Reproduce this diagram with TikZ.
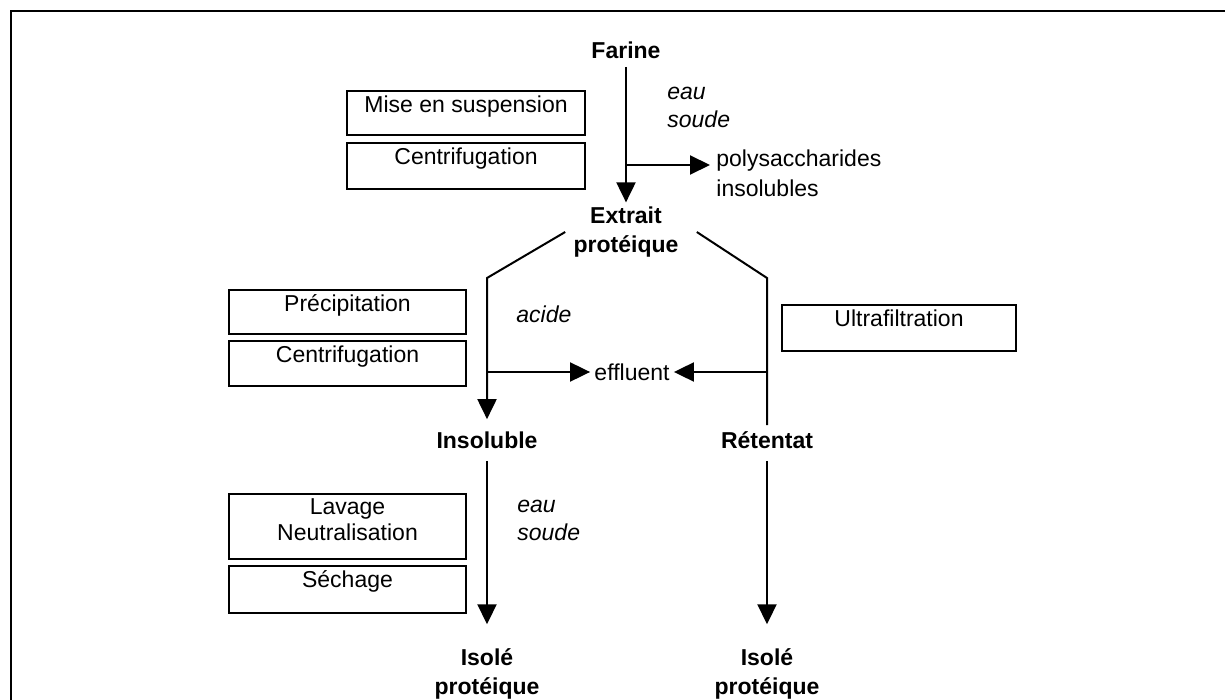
\documentclass[tikz,border=0pt]{standalone}
\usepackage{fontspec}
\setmainfont{Liberation Sans}
\usetikzlibrary{arrows.meta}
\begin{document}
\begin{tikzpicture}[x=0.5pt,y=-0.5pt,
  every node/.style={font=\fontsize{11.5}{14}\selectfont},
  lbl/.style={font=\fontsize{11.5}{14.5}\selectfont\bfseries, align=center, inner sep=2pt},
  note/.style={font=\fontsize{11.5}{14}\selectfont\itshape, align=left, anchor=west, inner sep=0pt},
  plain/.style={font=\fontsize{11.5}{15}\selectfont, align=left, anchor=west, inner sep=0pt},
  flow/.style={line width=1pt},
  arr/.style={flow, -{Triangle[length=10pt,width=9.5pt]}},
  stepbox/.style={draw, line width=1pt, anchor=north west, inner sep=0pt},
  boxtext/.style={anchor=north, inner sep=0pt, yshift=-2.5pt, align=center,
    font=\fontsize{11.5}{13}\selectfont}
]
\useasboundingbox (0,0) rectangle (1225,700);
% frame
\draw[line width=1.2pt] (11,700) -- (11,11) -- (1225,11);

% step boxes
\node[stepbox, minimum width=119pt, minimum height=22pt,
  label={[boxtext]north:Mise en suspension}] (b1) at (346,90) {};
\node[stepbox, minimum width=119pt, minimum height=23pt,
  label={[boxtext]north:Centrifugation}] (b2) at (346,142) {};
\node[stepbox, minimum width=118.5pt, minimum height=22pt,
  label={[boxtext]north:Précipitation}] (b3) at (228,289) {};
\node[stepbox, minimum width=118.5pt, minimum height=22.5pt,
  label={[boxtext]north:Centrifugation}] (b4) at (228,340) {};
\node[stepbox, minimum width=117pt, minimum height=23pt,
  label={[boxtext]north:Ultrafiltration}] (b5) at (781,304) {};
\node[stepbox, minimum width=118.5pt, minimum height=32.5pt,
  label={[boxtext]north:Lavage\\Neutralisation}] (b6) at (228,493) {};
\node[stepbox, minimum width=118.5pt, minimum height=23.5pt,
  label={[boxtext]north:Séchage}] (b7) at (228,565) {};

% main nodes
\node[lbl] (farine) at (626,50) {Farine};
\node[lbl] (extrait) at (626,232) {Extrait\\protéique};
\node[plain] (poly) at (716,173) {polysaccharides\\insolubles};
\node[note] (eau1) at (667,107) {eau\\soude};
\node[lbl] (insol) at (487,440) {Insoluble};
\node[lbl] (reten) at (767,440) {Rétentat};
\node[note] (acide) at (516,314) {acide};
\node[inner sep=2pt] (eff) at (632,372) {effluent};
\node[note] (eau2) at (517,520) {eau\\soude};
\node[lbl] (iso1) at (487,674) {Isolé\\protéique};
\node[lbl] (iso2) at (767,674) {Isolé\\protéique};

% junctions
\coordinate (j1) at (626,165);
\coordinate (kL) at (487,278);
\coordinate (kR) at (767,278);
\coordinate (eL) at (487,372);
\coordinate (eR) at (767,372);

% connectors
\draw[arr, shorten <=2pt] (farine) -- (extrait);
\draw[arr, shorten >=3pt] (j1) -- (j1 -| poly.west);
\draw[arr, shorten >=4pt] ([xshift=-2pt]extrait.west) -- (kL) -- (insol.north);
\draw[flow] ([xshift=7pt]extrait.east) -- (kR) -- ([yshift=1pt]reten.north);
\draw[arr] (eL) -- (eff);
\draw[arr] (eR) -- (eff);
\draw[arr, shorten <=4pt, shorten >=10pt] (insol) -- (iso1);
\draw[arr, shorten <=4pt, shorten >=10pt] (reten) -- (iso2);
\end{tikzpicture}
\end{document}
